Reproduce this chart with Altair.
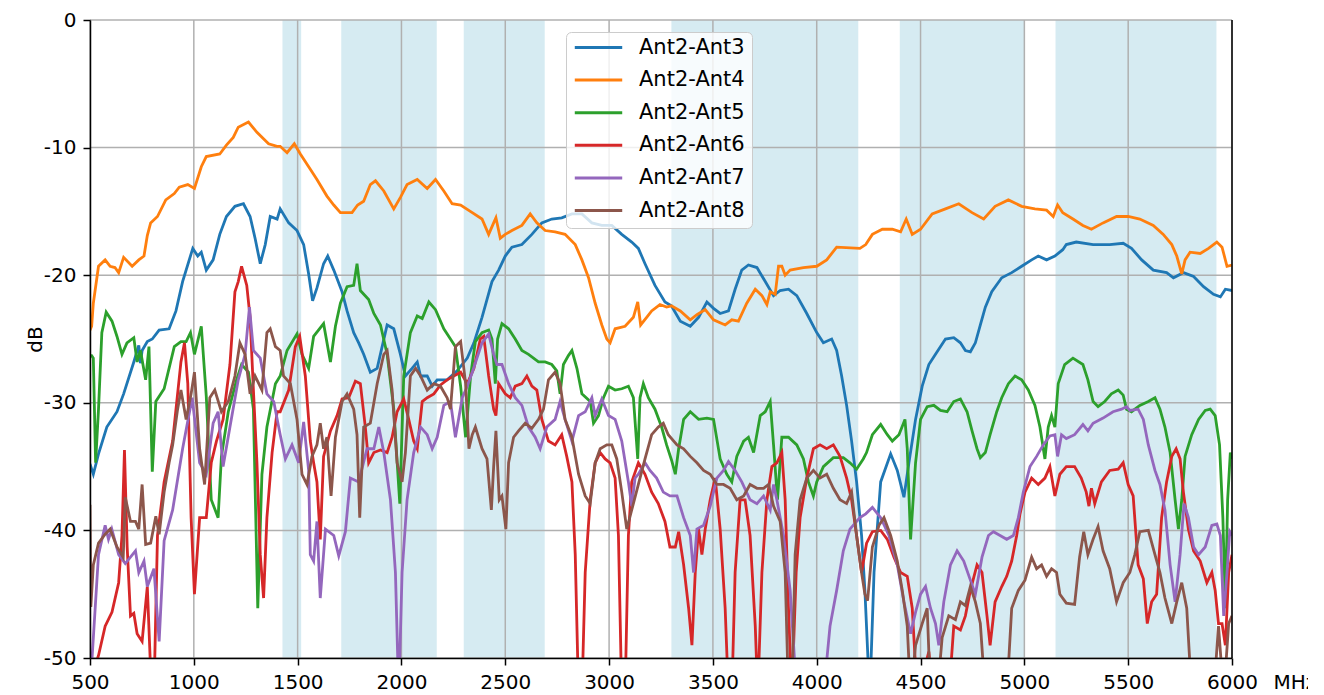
import altair as alt
import pandas as pd

series_names = ["Ant2-Ant3", "Ant2-Ant4", "Ant2-Ant5", "Ant2-Ant6", "Ant2-Ant7", "Ant2-Ant8"]
series_colors = ["#1f77b4", "#ff7f0e", "#2ca02c", "#d62728", "#9467bd", "#8c564b"]

band_start = [1427, 1710, 2300, 3300, 4400, 5150]
band_end = [1517, 2170, 2690, 4200, 5000, 5925]

x_ticks = [500, 1000, 1500, 2000, 2500, 3000, 3500, 4000, 4500, 5000, 5500, 6000]
y_ticks = [0, -10, -20, -30, -40, -50]

ant3 = [(500,-34.8),(508,-35.2),(516,-35.6),(541,-34.0),(581,-31.9),(630,-30.7),(662,-29.3),(711,-26.8),(735,-25.5),(743,-26.9),(751,-25.9),(776,-25.2),(800,-25.0),(833,-24.3),(881,-24.2),(914,-22.8),(946,-20.5),(995,-17.9),(1019,-18.5),(1036,-18.2),(1060,-19.6),(1093,-18.8),(1125,-16.8),(1157,-15.4),(1198,-14.6),(1239,-14.4),(1271,-15.4),(1295,-17.1),(1320,-19.1),(1344,-17.6),(1368,-15.4),(1401,-15.6),
        (1416,-14.8),(1457,-15.9),(1497,-16.5),(1529,-17.6),(1553,-19.9),(1572,-22.0),(1593,-21.0),(1625,-19.1),(1645,-18.5),(1674,-19.6),(1714,-21.3),(1738,-22.8),(1770,-24.5),(1794,-25.3),(1818,-26.2),(1850,-27.6),(1883,-27.3),(1907,-25.6),(1931,-23.9),(1963,-24.2),(1995,-26.2),(2019,-27.9),(2051,-27.3),(2076,-26.8),(2092,-27.9),(2124,-27.9),(2148,-28.7),(2172,-28.2),(2220,-28.2),(2268,-27.5),(2317,-26.5),
        (2349,-25.3),(2388,-23.3),(2436,-20.5),(2468,-19.6),(2500,-18.5),(2532,-17.8),(2580,-17.6),(2628,-16.8),(2676,-15.9),(2724,-15.6),(2772,-15.5),(2821,-15.2),(2869,-15.2),(2917,-15.9),(2965,-16.1),(3013,-16.1),(3061,-16.8),(3109,-17.4),(3141,-17.9),(3173,-19.1),(3221,-20.8),(3269,-22.1),
        (3300,-22.4),(3343,-23.6),(3391,-24.0),(3431,-23.3),(3471,-22.1),(3503,-22.6),(3535,-23.0),(3575,-22.8),(3607,-21.1),(3639,-19.6),(3671,-19.2),(3712,-19.4),(3752,-20.5),(3792,-21.6),(3824,-21.2),(3864,-21.1),(3904,-21.6),(3952,-23.0),(4000,-24.5),(4032,-25.3),(4072,-25.0),(4096,-25.9),(4120,-27.9),(4144,-30.2),(4168,-33.0),(4192,-36.2),(4216,-40.4),(4232,-44.7),(4248,-50.5),(4256,-54.0),
        (4262,-50.0),(4276,-43.3),(4308,-36.2),(4356,-34.0),(4388,-35.3),(4420,-37.4),(4444,-34.7),(4476,-31.3),(4508,-28.7),(4540,-27.0),(4572,-26.2),(4620,-25.0),(4660,-24.9),(4692,-25.3),(4716,-25.9),(4740,-26.0),(4764,-25.3),(4788,-23.9),(4812,-22.5),(4843,-21.3),(4891,-20.2),(4939,-19.8),(4987,-19.3),(5035,-18.8),(5067,-18.5),(5107,-18.8),(5147,-18.5),
        (5185,-18.0),(5202,-17.6),(5250,-17.4),(5331,-17.6),(5411,-17.6),(5476,-17.5),(5516,-17.9),(5565,-18.8),(5621,-19.6),(5685,-19.8),(5718,-20.2),(5766,-19.8),(5815,-20.1),(5863,-20.9),(5911,-21.5),(5944,-21.7),(5968,-21.1),(6000,-21.2)]

ant4 = [(500,-24.3),(508,-24.0),(516,-22.2),(541,-19.3),(573,-18.8),(597,-19.3),(620,-19.4),(638,-19.8),(662,-18.6),(703,-19.3),(735,-18.8),(760,-18.5),(776,-16.9),(792,-15.9),(825,-15.4),(865,-14.1),(906,-13.6),(930,-13.1),(971,-12.9),(1003,-13.2),(1036,-11.5),(1060,-10.7),(1125,-10.5),(1157,-9.8),(1190,-9.2),(1214,-8.4),(1263,-8.0),(1304,-8.8),(1360,-9.7),(1401,-9.9),
        (1416,-9.9),(1449,-10.4),(1484,-9.7),(1513,-10.5),(1561,-11.7),(1593,-12.5),(1641,-13.8),(1674,-14.5),(1706,-15.1),(1762,-15.1),(1789,-14.5),(1818,-14.2),(1850,-12.9),(1875,-12.6),(1915,-13.4),(1963,-14.8),(1995,-13.9),(2027,-12.9),(2076,-12.5),(2124,-13.2),(2164,-12.5),(2204,-13.4),(2244,-14.4),(2285,-14.5),(2341,-15.1),
        (2388,-15.6),(2420,-16.8),(2444,-15.9),(2455,-15.5),(2476,-17.1),(2500,-16.8),(2532,-16.5),(2580,-16.1),(2620,-15.2),(2652,-15.9),(2692,-16.5),(2740,-16.6),(2788,-16.8),(2837,-17.6),(2869,-18.8),(2901,-20.2),(2933,-22.2),(2965,-23.9),(2989,-25.0),(3005,-25.3),(3029,-24.2),(3077,-24.0),(3117,-23.3),(3138,-22.1),(3152,-23.9),(3181,-23.3),(3205,-22.8),(3245,-22.3),(3277,-22.5),
        (3300,-22.4),(3343,-22.8),(3391,-23.5),(3423,-23.1),(3463,-22.7),(3503,-23.5),(3559,-23.9),(3591,-23.5),(3623,-23.6),(3663,-22.2),(3704,-21.1),(3736,-21.6),(3760,-22.3),(3776,-21.3),(3800,-21.5),(3816,-19.3),(3832,-19.3),(3848,-20.0),(3872,-19.6),(3936,-19.4),(4000,-19.3),(4048,-18.8),(4096,-17.8),(4208,-17.9),
        (4236,-17.6),(4268,-16.8),(4316,-16.4),(4364,-16.4),(4404,-16.6),(4431,-15.6),(4460,-16.8),(4500,-16.4),(4556,-15.2),(4620,-14.8),(4684,-14.4),(4748,-15.1),(4804,-15.6),(4859,-14.6),(4923,-14.1),(4987,-14.6),(5051,-14.8),(5107,-14.9),(5139,-15.4),(5160,-14.5),
        (5185,-15.1),(5234,-15.6),(5282,-16.1),(5323,-16.4),(5379,-15.9),(5444,-15.4),(5500,-15.4),(5556,-15.6),(5621,-16.1),(5669,-16.8),(5710,-17.6),(5734,-18.5),(5758,-19.9),(5774,-18.8),(5798,-18.2),(5847,-18.3),(5887,-17.9),(5927,-17.4),(5952,-17.8),(5976,-19.3),(6000,-19.2)]

ant5 = [(500,-26.3),(508,-26.3),(516,-26.5),(527,-34.7),(541,-30.5),(557,-24.5),(578,-22.9),(606,-23.6),(630,-24.8),(654,-26.2),(678,-25.3),(711,-24.9),(727,-26.8),(743,-25.9),(768,-28.2),(784,-25.6),(800,-35.4),(817,-29.9),(857,-28.9),(906,-25.6),(938,-25.2),(963,-25.2),(984,-24.5),(1003,-26.2),(1036,-24.0),(1060,-29.5),(1084,-37.6),(1117,-39.0),(1133,-34.2),(1166,-30.7),(1206,-28.2),(1230,-27.0),(1263,-27.6),(1287,-30.5),(1308,-46.1),(1328,-35.6),(1352,-31.9),(1393,-28.5),
        (1416,-27.9),(1449,-25.9),(1497,-24.6),(1521,-26.2),(1553,-27.3),(1577,-24.8),(1625,-23.8),(1658,-26.8),(1682,-24.0),(1706,-22.2),(1738,-20.9),(1770,-20.8),(1786,-19.1),(1802,-21.2),(1842,-21.9),(1867,-23.0),(1899,-23.9),(1931,-26.2),(1963,-30.5),(1992,-37.9),(2011,-27.9),(2043,-24.5),(2076,-23.2),(2100,-23.4),(2132,-22.1),(2164,-22.7),(2204,-24.2),(2236,-25.0),(2260,-25.6),(2285,-28.7),(2309,-32.7),(2333,-27.9),
        (2356,-25.2),(2388,-24.5),(2420,-24.3),(2436,-25.0),(2452,-28.5),(2463,-25.0),(2484,-23.8),(2516,-24.2),(2548,-25.0),(2580,-25.9),(2612,-26.2),(2660,-26.8),(2692,-26.8),(2724,-27.0),(2748,-27.5),(2764,-29.3),(2780,-27.0),(2804,-26.3),(2821,-25.9),(2845,-27.3),(2869,-29.3),(2909,-29.9),(2925,-31.6),(2949,-31.0),(2973,-29.6),(2997,-28.7),(3029,-29.0),(3061,-28.9),(3093,-28.7),(3117,-29.6),(3138,-34.4),(3149,-29.6),(3165,-28.5),(3189,-29.6),(3221,-30.5),(3253,-31.9),(3277,-33.3),
        (3301,-34.5),(3319,-35.6),(3335,-33.6),(3359,-31.3),(3391,-30.7),(3431,-31.3),(3471,-31.2),(3503,-31.3),(3535,-34.4),(3567,-35.6),(3591,-36.2),(3615,-34.2),(3648,-33.0),(3671,-32.7),(3696,-33.9),(3728,-31.0),(3752,-30.7),(3776,-29.9),(3792,-33.3),(3811,-37.6),(3832,-32.7),(3864,-32.7),(3904,-33.3),(3936,-34.4),(3960,-36.2),(3984,-37.3),(4000,-36.2),(4032,-35.0),(4080,-34.3),(4128,-34.3),(4160,-34.7),(4192,-35.2),(4224,-34.4),
        (4240,-33.9),(4268,-32.5),(4308,-31.7),(4340,-32.5),(4364,-33.0),(4396,-32.5),(4425,-31.3),(4436,-33.6),(4452,-40.7),(4476,-34.7),(4500,-31.3),(4532,-30.3),(4564,-30.2),(4596,-30.6),(4628,-30.7),(4660,-29.9),(4692,-29.7),(4724,-30.7),(4748,-32.2),(4772,-33.6),(4788,-34.3),(4812,-33.9),(4835,-32.5),(4867,-30.7),(4891,-29.6),(4923,-28.5),(4955,-27.9),(4987,-28.2),(5019,-29.0),(5051,-30.2),(5075,-31.9),(5099,-34.4),(5115,-31.9),(5131,-31.0),(5147,-31.9),(5163,-28.5),
        (5194,-27.0),(5234,-26.5),(5282,-27.0),(5306,-28.2),(5331,-29.9),(5355,-30.3),(5387,-29.9),(5419,-29.3),(5452,-29.0),(5476,-29.4),(5492,-30.5),(5516,-30.7),(5556,-30.2),(5597,-29.9),(5629,-29.6),(5653,-30.5),(5677,-31.9),(5702,-33.9),(5726,-37.6),(5742,-39.9),(5758,-37.6),(5774,-34.2),(5806,-32.5),(5839,-31.3),(5871,-30.6),(5895,-30.5),(5919,-31.0),(5940,-33.3),(5956,-39.0),(5968,-46.1),(5979,-37.6),(5992,-33.9),(6000,-34.4)]

ant6 = [(500,-53.0),(516,-51.0),(541,-49.8),(573,-47.5),(606,-46.4),(638,-44.1),(654,-40.4),(666,-33.7),(679,-41.3),(695,-46.7),(711,-46.5),(727,-48.1),(751,-48.7),(776,-44.4),(792,-51.0),(808,-53.0),(825,-40.4),(857,-36.2),(898,-33.0),(938,-26.8),(955,-25.3),(971,-28.5),(987,-39.0),(1003,-45.0),(1028,-39.0),(1060,-39.0),(1084,-34.7),(1109,-33.0),(1141,-31.3),(1174,-27.0),(1198,-21.3),(1214,-20.5),(1230,-19.3),(1255,-20.8),(1271,-23.3),(1287,-29.0),(1304,-34.7),(1320,-41.9),(1336,-45.3),(1352,-39.0),(1377,-33.9),(1401,-30.7),
        (1416,-30.7),(1457,-29.0),(1489,-25.6),(1510,-24.8),(1537,-27.9),(1561,-33.0),(1577,-34.7),(1593,-36.2),(1609,-40.7),(1625,-34.2),(1658,-32.2),(1690,-31.0),(1714,-29.7),(1746,-29.6),(1778,-28.3),(1802,-28.5),(1826,-31.9),(1842,-34.7),(1867,-33.9),(1899,-33.7),(1931,-33.9),(1955,-32.7),(1979,-30.7),(2011,-29.7),(2035,-31.3),(2059,-33.0),(2076,-33.6),(2100,-29.9),(2124,-29.6),(2156,-29.3),(2188,-28.6),(2220,-28.2),(2252,-27.9),(2285,-27.6),(2317,-28.5),(2349,-27.3),
        (2380,-25.0),(2396,-24.8),(2420,-27.9),(2444,-30.5),(2455,-31.0),(2468,-28.5),(2500,-29.3),(2524,-29.6),(2548,-28.7),(2580,-28.5),(2604,-27.9),(2628,-28.7),(2652,-29.0),(2676,-31.3),(2708,-33.0),(2740,-33.3),(2772,-32.5),(2796,-34.2),(2821,-36.2),(2837,-41.9),(2853,-53.0),(2869,-53.0),(2885,-43.3),(2909,-37.6),(2933,-34.7),(2957,-33.9),(2981,-34.4),(3005,-34.7),(3029,-35.9),(3045,-40.4),(3061,-53.0),(3077,-53.0),(3093,-40.4),(3109,-36.2),(3141,-34.7),(3173,-35.6),(3205,-37.0),(3237,-37.9),(3269,-39.3),(3293,-41.3),
        (3319,-41.3),(3335,-40.1),(3359,-42.7),(3383,-46.1),(3399,-49.0),(3415,-43.3),(3431,-39.9),(3447,-41.9),(3463,-39.9),(3487,-37.6),(3511,-35.9),(3535,-39.9),(3559,-46.1),(3575,-53.0),(3591,-53.0),(3607,-43.3),(3631,-37.6),(3655,-37.6),(3679,-40.4),(3704,-47.5),(3716,-53.0),(3736,-43.3),(3760,-37.6),(3784,-35.0),(3808,-34.7),(3832,-33.9),(3848,-37.6),(3864,-46.1),(3880,-53.0),(3901,-43.3),(3920,-39.0),(3952,-35.9),(3984,-33.6),(4016,-33.3),(4048,-33.6),(4080,-33.3),(4112,-34.2),(4144,-35.9),(4168,-37.6),(4192,-40.4),(4216,-43.3),(4240,-41.0),
        (4268,-40.1),(4308,-40.0),(4340,-40.7),(4372,-42.1),(4404,-43.3),(4436,-43.6),(4460,-46.1),(4484,-53.0),(4500,-52.0),(4540,-49.5),(4560,-53.0),(4600,-50.0),(4636,-53.0),(4660,-47.5),(4692,-47.8),(4716,-46.7),(4740,-44.7),(4772,-42.7),(4796,-43.3),(4820,-46.7),(4835,-49.0),(4859,-45.6),(4891,-44.4),(4915,-43.6),(4939,-42.4),(4963,-40.4),(4979,-38.7),(5003,-37.0),(5035,-35.9),(5067,-36.4),(5099,-35.9),(5123,-35.0),(5147,-37.3),(5171,-35.6),
        (5202,-35.0),(5242,-35.0),(5274,-35.9),(5298,-37.0),(5311,-38.1),(5323,-36.7),(5339,-37.9),(5371,-36.2),(5411,-35.3),(5452,-35.2),(5476,-34.7),(5500,-36.4),(5524,-37.3),(5548,-42.7),(5573,-43.8),(5592,-47.3),(5613,-45.6),(5637,-45.0),(5661,-39.0),(5685,-36.2),(5710,-34.2),(5731,-33.6),(5750,-34.4),(5766,-37.0),(5790,-39.9),(5815,-41.6),(5847,-42.4),(5879,-44.1),(5903,-43.3),(5919,-44.7),(5935,-47.3),(5952,-47.3),(5968,-49.0),(5984,-43.3),(6000,-41.9)]

ant7 = [(500,-53.0),(510,-50.0),(541,-41.9),(573,-39.6),(589,-40.7),(605,-39.9),(638,-41.9),(670,-42.6),(719,-41.6),(735,-43.3),(760,-42.4),(776,-44.4),(808,-43.0),(833,-48.7),(857,-40.8),(898,-38.4),(946,-33.6),(992,-29.6),(1028,-34.7),(1060,-35.6),(1093,-31.6),(1117,-30.7),(1141,-35.0),(1174,-31.9),(1214,-28.2),(1247,-26.2),(1268,-22.5),(1287,-25.9),(1320,-26.5),(1352,-29.3),(1385,-29.9),
        (1416,-32.5),(1441,-34.4),(1473,-33.3),(1505,-34.7),(1529,-31.5),(1553,-35.3),(1561,-41.9),(1577,-42.4),(1593,-39.3),(1609,-45.3),(1634,-39.9),(1674,-40.4),(1698,-42.0),(1730,-40.1),(1754,-35.9),(1794,-36.2),(1834,-33.6),(1867,-33.6),(1891,-31.9),(1915,-33.9),(1947,-37.6),(1971,-43.3),(1987,-53.0),(2003,-43.3),(2027,-37.6),(2059,-33.9),(2092,-31.9),(2124,-32.5),(2148,-33.6),(2172,-32.7),(2204,-30.2),(2236,-29.9),(2260,-32.7),(2293,-29.6),(2317,-28.7),(2341,-27.6),
        (2388,-25.3),(2420,-24.6),(2444,-26.2),(2460,-27.0),(2484,-27.0),(2516,-28.5),(2548,-29.6),(2580,-30.2),(2612,-31.9),(2644,-32.7),(2668,-33.6),(2700,-31.9),(2740,-31.3),(2764,-29.9),(2788,-31.3),(2821,-33.0),(2853,-31.0),(2885,-30.7),(2917,-29.6),(2933,-31.0),(2965,-29.7),(2997,-31.0),(3029,-31.3),(3061,-33.0),(3093,-36.2),(3109,-38.1),(3125,-35.9),(3141,-35.6),(3173,-34.7),(3197,-35.3),(3229,-35.9),(3261,-37.0),(3293,-37.3),
        (3327,-37.3),(3359,-39.0),(3391,-40.4),(3407,-43.3),(3423,-39.9),(3455,-39.6),(3487,-38.1),(3519,-35.9),(3551,-35.3),(3575,-34.6),(3607,-35.3),(3639,-36.2),(3679,-37.6),(3712,-37.9),(3744,-37.3),(3776,-38.4),(3792,-36.4),(3808,-37.6),(3840,-40.4),(3872,-44.7),(3904,-53.0),(4032,-53.0),(4064,-47.5),(4096,-44.7),(4128,-41.6),(4160,-39.9),(4208,-39.0),
        (4236,-38.7),(4268,-38.2),(4308,-39.0),(4348,-40.4),(4388,-42.7),(4420,-45.6),(4452,-48.1),(4476,-46.4),(4500,-45.0),(4524,-44.4),(4548,-46.1),(4572,-47.3),(4588,-49.0),(4612,-45.6),(4644,-42.7),(4676,-41.6),(4708,-42.4),(4740,-43.9),(4764,-45.0),(4796,-42.1),(4827,-40.4),(4851,-40.1),(4883,-40.4),(4915,-40.7),(4947,-40.4),(4971,-39.0),(4995,-37.0),(5027,-35.0),(5059,-34.2),(5091,-33.3),(5123,-32.6),(5147,-32.5),(5160,-34.2),(5179,-32.5),
        (5202,-32.8),(5242,-32.5),(5282,-31.7),(5306,-32.2),(5331,-31.6),(5379,-31.2),(5427,-30.7),(5468,-30.5),(5492,-30.3),(5508,-30.6),(5548,-30.5),(5573,-31.3),(5597,-33.3),(5629,-35.3),(5653,-36.4),(5677,-38.4),(5702,-42.7),(5726,-45.6),(5750,-41.9),(5769,-37.9),(5790,-39.0),(5815,-41.3),(5839,-41.9),(5871,-41.3),(5903,-39.6),(5927,-39.5),(5944,-40.4),(5960,-46.7),(5976,-43.3),(5989,-40.1),(6000,-40.4)]

ant8 = [(500,-38.0),(504,-46.0),(516,-42.7),(541,-41.0),(573,-40.3),(597,-39.9),(630,-41.3),(660,-42.1),(670,-37.4),(695,-39.3),(719,-39.3),(735,-39.9),(751,-36.4),(768,-41.1),(792,-41.0),(817,-38.9),(833,-40.3),(857,-37.0),(881,-34.7),(898,-33.3),(922,-30.5),(938,-29.0),(963,-31.3),(987,-29.3),(1003,-27.6),(1028,-33.6),(1052,-36.4),(1077,-29.6),(1101,-29.0),(1133,-30.7),(1166,-29.9),(1198,-27.9),(1222,-25.3),(1247,-26.2),(1271,-29.3),(1295,-27.9),(1328,-29.0),(1352,-24.5),(1368,-24.2),(1393,-25.6),
        (1416,-25.9),(1432,-27.9),(1465,-28.5),(1497,-31.3),(1521,-35.6),(1545,-36.4),(1569,-34.2),(1593,-33.3),(1609,-31.6),(1625,-33.6),(1641,-32.7),(1661,-37.3),(1682,-32.7),(1714,-29.9),(1738,-29.3),(1770,-30.5),(1786,-32.5),(1799,-39.0),(1818,-31.9),(1850,-31.6),(1883,-28.5),(1915,-26.2),(1931,-25.9),(1955,-29.0),(1979,-34.7),(2003,-36.2),(2019,-33.9),(2043,-27.9),(2068,-27.3),(2092,-27.9),(2124,-29.0),(2156,-28.5),(2188,-28.7),(2220,-29.6),(2236,-30.5),(2260,-25.6),(2285,-25.2),(2309,-28.5),(2325,-33.6),(2341,-32.5),
        (2356,-31.9),(2388,-33.6),(2412,-34.4),(2433,-38.4),(2444,-35.0),(2455,-32.2),(2471,-37.6),(2484,-37.3),(2503,-39.9),(2516,-34.7),(2540,-32.7),(2564,-32.2),(2596,-31.6),(2628,-32.0),(2660,-31.3),(2684,-30.5),(2708,-28.2),(2740,-27.6),(2764,-28.5),(2788,-31.3),(2821,-32.7),(2853,-35.6),(2885,-37.3),(2909,-37.9),(2933,-34.7),(2957,-33.6),(2989,-33.3),(3013,-33.3),(3037,-34.4),(3061,-37.0),(3085,-39.9),(3109,-38.4),(3141,-36.4),(3173,-34.4),(3205,-32.5),(3237,-31.9),(3261,-31.6),(3285,-32.5),
        (3327,-33.3),(3359,-33.6),(3391,-34.2),(3423,-34.7),(3455,-35.3),(3487,-35.6),(3519,-36.4),(3551,-36.4),(3583,-36.7),(3615,-37.6),(3648,-37.3),(3679,-36.4),(3712,-36.7),(3744,-36.7),(3768,-36.4),(3792,-38.1),(3824,-39.3),(3848,-43.3),(3864,-53.0),(3880,-53.0),(3896,-41.9),(3920,-37.6),(3952,-35.9),(3984,-35.3),(4016,-35.9),(4048,-35.6),(4080,-36.7),(4112,-37.6),(4144,-37.9),(4168,-37.0),(4192,-40.4),(4216,-43.3),(4232,-45.0),
        (4245,-45.5),(4268,-41.3),(4300,-39.6),(4324,-39.0),(4356,-40.4),(4388,-42.4),(4412,-44.7),(4436,-47.5),(4452,-53.0),(4476,-49.0),(4508,-47.3),(4532,-46.1),(4548,-53.0),(4580,-53.0),(4604,-48.4),(4636,-46.7),(4668,-47.0),(4692,-45.6),(4716,-45.9),(4740,-44.4),(4764,-45.6),(4788,-47.3),(4812,-53.0),(4915,-53.0),(4939,-46.1),(4971,-44.7),(5003,-43.9),(5035,-42.1),(5059,-43.0),(5083,-42.7),(5107,-43.6),(5131,-43.0),(5155,-43.3),(5171,-45.0),
        (5202,-45.7),(5242,-45.8),(5266,-42.1),(5286,-40.1),(5306,-41.9),(5331,-40.7),(5355,-39.7),(5379,-41.6),(5411,-43.0),(5444,-45.6),(5476,-44.1),(5508,-43.3),(5532,-41.9),(5556,-40.1),(5597,-40.0),(5629,-41.9),(5653,-43.3),(5677,-45.3),(5710,-47.3),(5734,-45.6),(5758,-44.1),(5782,-46.1),(5806,-53.0),(5911,-53.0),(5935,-47.5),(5960,-53.0),(5984,-47.3),(6000,-46.7)]

all_series = [ant3, ant4, ant5, ant6, ant7, ant8]

rows = []
for si, (name, pts) in enumerate(zip(series_names, all_series)):
    for i, (f, d) in enumerate(pts):
        rows.append({"series": name, "mhz": f, "db": d, "idx": i, "sidx": si})
df = pd.DataFrame(rows)

bands_df = pd.DataFrame({"start": band_start, "end": band_end})
xgrid_df = pd.DataFrame({"x": x_ticks})
ygrid_df = pd.DataFrame({"y": y_ticks})

FONT = "DejaVu Sans"
xscale = alt.Scale(domain=[500, 6000], nice=False, zero=False)
yscale = alt.Scale(domain=[-50, 0], nice=False, zero=False)

x_axis = alt.Axis(values=x_ticks, grid=False, title="MHz", titleX=1183, titleY=14,
                  titleAlign="left", titleBaseline="top", titleFontSize=20,
                  titleFontWeight="normal", titleColor="black", titleFont=FONT,
                  labelFontSize=20, labelColor="black", labelFont=FONT, labelPadding=7,
                  tickSize=7, tickColor="black", tickWidth=1.5, domainColor="black",
                  domainWidth=1.5, labelExpr="'' + datum.value", labelOverlap=False,
                  labelFlush=False, zindex=1)
y_axis = alt.Axis(values=y_ticks, grid=False, title="dB", titleX=-55, titleY=319,
                  titleAngle=270, titleAlign="center", titleBaseline="middle",
                  titleFontSize=20, titleFontWeight="normal", titleColor="black", titleFont=FONT,
                  labelFontSize=20, labelColor="black", labelFont=FONT, labelPadding=7,
                  tickSize=7, tickColor="black", tickWidth=1.5, domainColor="black",
                  domainWidth=1.5, labelExpr="'' + datum.value", labelOverlap=False,
                  labelFlush=False, zindex=1)

bands = alt.Chart(bands_df).mark_rect(color="#add8e6", opacity=0.5).encode(
    x=alt.X("start:Q", scale=xscale, axis=x_axis),
    x2="end:Q",
)

xgrid = alt.Chart(xgrid_df).mark_rule(color="#b0b0b0", strokeWidth=1.5).encode(
    x=alt.X("x:Q", scale=xscale, axis=x_axis)
)
ygrid = alt.Chart(ygrid_df).mark_rule(color="#b0b0b0", strokeWidth=1.5).encode(
    y=alt.Y("y:Q", scale=yscale, axis=y_axis)
)

lines = alt.Chart(df).mark_line(strokeWidth=2.8, clip=True).encode(
    x=alt.X("mhz:Q", scale=xscale, axis=x_axis),
    y=alt.Y("db:Q", scale=yscale, axis=y_axis),
    color=alt.Color("series:N",
                    scale=alt.Scale(domain=series_names, range=series_colors),
                    legend=alt.Legend(title=None, orient="none", legendX=476, legendY=12,
                                      direction="vertical", symbolType="stroke",
                                      symbolSize=2250, symbolStrokeWidth=3,
                                      clipHeight=17, rowPadding=10.6,
                                      labelFont=FONT, labelFontSize=21, labelColor="black",
                                      labelOffset=15, labelLimit=300,
                                      fillColor="rgba(255,255,255,0.8)",
                                      strokeColor="#cccccc", cornerRadius=5, padding=7)),
    order=alt.Order("idx:Q"),
)

right_spine = alt.Chart(pd.DataFrame({"x": [x_ticks[-1]]})).mark_rule(
    color="black", strokeWidth=1.5).encode(x=alt.X("x:Q", scale=xscale, axis=x_axis))

chart = alt.layer(bands, xgrid, ygrid, lines, right_spine).properties(
    width=1142, height=638,
    autosize=alt.AutoSizeParams(type="none"),
    padding={"left": 82, "top": 12, "right": 76, "bottom": 36},
).configure(font=FONT).configure_view(stroke=None)

chart.save("out.html", embed_options={"renderer": "svg", "actions": False})
